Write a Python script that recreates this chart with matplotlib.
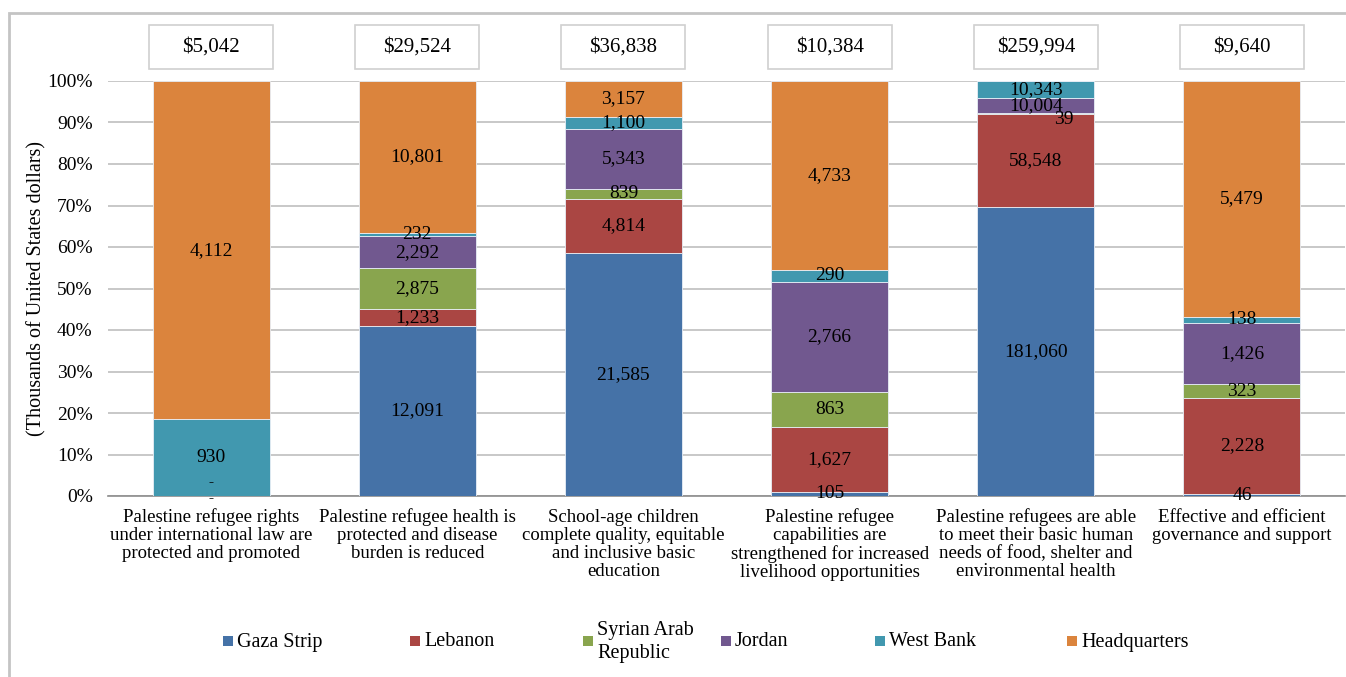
import matplotlib
matplotlib.use("Agg")
import matplotlib.pyplot as plt
import matplotlib.transforms as mtransforms
from matplotlib.patches import Rectangle
import numpy as np

plt.rcParams['font.family'] = ['Liberation Serif', 'DejaVu Serif']

categories = [
    "Palestine refugee rights\nunder international law are\nprotected and promoted",
    "Palestine refugee health is\nprotected and disease\nburden is reduced",
    "School-age children\ncomplete quality, equitable\nand inclusive basic\neducation",
    "Palestine refugee\ncapabilities are\nstrengthened for increased\nlivelihood opportunities",
    "Palestine refugees are able\nto meet their basic human\nneeds of food, shelter and\nenvironmental health",
    "Effective and efficient\ngovernance and support",
]

series_names = ["Gaza Strip", "Lebanon", "Syrian Arab\nRepublic", "Jordan", "West Bank", "Headquarters"]

gaza = [0, 12091, 21585, 105, 181060, 46]
lebanon = [0, 1233, 4814, 1627, 58548, 2228]
syria = [0, 2875, 839, 863, 39, 323]
jordan = [0, 2292, 5343, 2766, 10004, 1426]
west_bank = [930, 232, 1100, 290, 10343, 138]
headquarters = [4112, 10801, 3157, 4733, 0, 5479]

totals = [5042, 29524, 36838, 10384, 259994, 9640]

colors = ["#4572A7", "#AA4643", "#89A54E", "#71588F", "#4198AF", "#DB843D"]

series = [gaza, lebanon, syria, jordan, west_bank, headquarters]
data = np.array(series, dtype=float)

# zero segments that carry a dash label (category index, series index)
dash_labels = {(0, 0), (0, 1)}
# label nudges in pixels for crowded segments
label_offsets = {(0, 0): (0, -3), (0, 1): (0, 13), (4, 2): (28, -6)}

fig = plt.figure(figsize=(13.46, 6.77), dpi=100)
W, H = 1346, 677
ax = fig.add_axes([108 / W, 1 - 496 / H, (1345 - 108) / W, (496 - 81) / H])

x = np.arange(len(categories))
width = 0.568
col_sum = data.sum(axis=0)
pct = data / col_sum * 100

bottom = np.zeros(len(categories))
for i, (name, vals) in enumerate(zip(series_names, pct)):
    ax.bar(x, vals, width, bottom=bottom, color=colors[i], edgecolor="#e8eef6",
           linewidth=0.6, zorder=3, label=name)
    for j in range(len(categories)):
        raw = data[i, j]
        size = 14
        if raw > 0:
            txt = f"{int(raw):,}"
        elif (j, i) in dash_labels:
            txt = "-"
            size = 11
        else:
            continue
        dx, dy = label_offsets.get((j, i), (0, 0))
        ax.annotate(txt, (x[j], bottom[j] + vals[j] / 2), xytext=(dx * 0.72, dy * 0.72),
                    textcoords="offset points", ha="center", va="center",
                    fontsize=size, fontweight="bold" if txt == "-" else "normal",
                    color="black", zorder=5)
    bottom += vals

ax.set_xlim(-0.5, 5.5)
ax.set_ylim(0, 100)
ax.set_yticks(np.arange(0, 101, 10))
ax.set_yticklabels([f"{v}%" for v in range(0, 101, 10)], fontsize=14)
ax.set_xticks(x)
ax.set_xticklabels(categories, fontsize=13.5, linespacing=1.08, va="top")
ax.tick_params(axis="x", length=0, pad=9)
ax.tick_params(axis="y", length=0, pad=11)
for s in ["top", "right", "left"]:
    ax.spines[s].set_visible(False)
ax.spines["bottom"].set_color("#8c8c8c")
ax.spines["bottom"].set_linewidth(1.2)
ax.yaxis.grid(True, color="#c8c8c8", linewidth=1.4, zorder=0)
ax.set_axisbelow(True)
ax.set_ylabel("(Thousands of United States dollars)", fontsize=14.5)
ax.yaxis.set_label_coords(-62 / 1237, 0.5)

# total boxes above each bar
trans = mtransforms.blended_transform_factory(ax.transData, ax.transAxes)
box_w = 124 / 206.0
y0 = (496 - 69) / 415
y1 = (496 - 25) / 415
for j, tot in enumerate(totals):
    ax.add_patch(Rectangle((x[j] - box_w / 2, y0), box_w, y1 - y0, transform=trans,
                           facecolor="white", edgecolor="#d0d0d0", linewidth=1.2,
                           clip_on=False))
    ax.text(x[j], (y0 + y1) / 2, f"${tot:,}", transform=trans, ha="center",
            va="center", fontsize=15)

# legend entries
legend_x = [228, 415, 588, 726, 880, 1072]
legend_y = 641
for name, c, lx in zip(series_names, colors, legend_x):
    fig.add_artist(Rectangle(((lx - 5) / W, 1 - (legend_y + 5) / H), 10 / W, 10 / H,
                             transform=fig.transFigure, facecolor=c, edgecolor="none"))
    fig.text((lx + 9) / W, 1 - (legend_y + 1) / H, name, ha="left", va="center",
             fontsize=14.5, linespacing=1.25)

# chart frame
fig.add_artist(Rectangle((9 / W, -0.1), 1.2, 1 - 13 / H + 0.1, transform=fig.transFigure,
                         facecolor="none", edgecolor="#c4c4c4", linewidth=2.0))

fig.savefig("out.png", dpi=100, facecolor="white")
